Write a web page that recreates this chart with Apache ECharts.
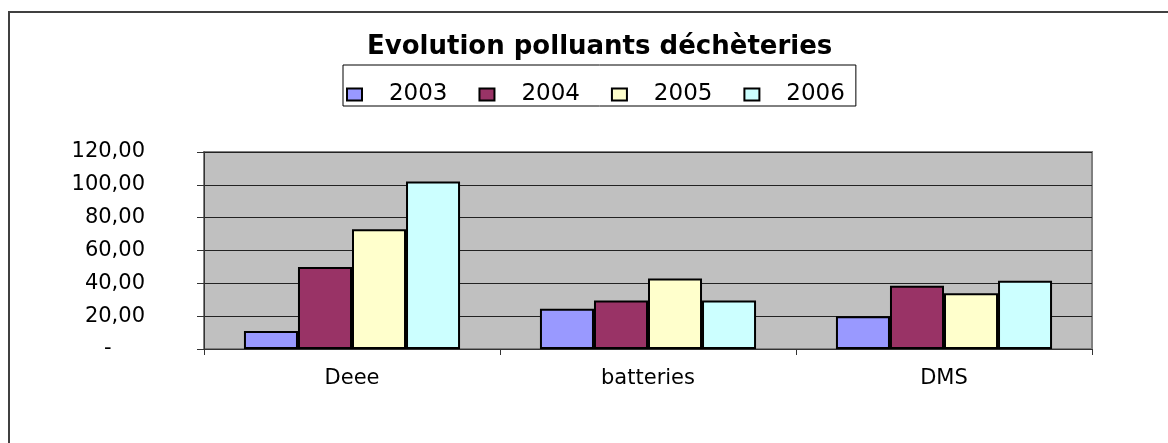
<!DOCTYPE html>
<html>
<head>
<meta charset="utf-8">
<script src="https://cdn.jsdelivr.net/npm/echarts@6/dist/echarts.min.js"></script>
<style>
  html, body { margin: 0; padding: 0; background: #fff; }
  #chart { width: 1168px; height: 443px; }
</style>
</head>
<body>
<div id="chart"></div>
<script>
  var categories = ['Deee', 'batteries', 'DMS'];
  var years = ['2003', '2004', '2005', '2006'];
  var v2003 = [11, 24.5, 20];
  var v2004 = [50, 29.5, 38.5];
  var v2005 = [73, 43, 34];
  var v2006 = [102, 29.5, 41.5];
  var colors = ['#9999FF', '#993366', '#FFFFCC', '#CCFFFF'];

  var seriesData = [v2003, v2004, v2005, v2006];
  var font = 'DejaVu Sans';

  var option = {
    animation: false,
    title: {
      text: 'Evolution polluants déchèteries',
      left: 362,
      top: 29,
      textStyle: { fontFamily: font, fontWeight: 'bold', fontSize: 26, color: '#000' }
    },
    legend: {
      data: years,
      left: 343,
      top: 65,
      padding: [18, 11, 0, 3],
      itemGap: 31,
      itemWidth: 15,
      itemHeight: 12,
      borderColor: '#000',
      borderWidth: 1,
      icon: 'rect',
      formatter: function (name) { return '   ' + name; },
      textStyle: { fontFamily: font, fontSize: 23, color: '#000' }
    },
    graphic: [{
      type: 'rect',
      shape: { x: 9, y: 12, width: 1300, height: 600 },
      style: { fill: 'none', stroke: '#404040', lineWidth: 2 },
      silent: true
    }],
    grid: {
      left: 204, right: 76, top: 152, bottom: 94,
      show: true,
      backgroundColor: '#C0C0C0',
      borderColor: '#808080',
      borderWidth: 2
    },
    xAxis: {
      type: 'category',
      data: categories,
      axisLine: { lineStyle: { color: '#333', width: 1 } },
      axisTick: { show: true, length: 6, lineStyle: { color: '#333' } },
      axisLabel: { fontFamily: font, fontSize: 21, color: '#000', margin: 19 }
    },
    yAxis: {
      type: 'value',
      min: 0, max: 120, interval: 20,
      axisLine: { show: true, lineStyle: { color: '#333', width: 1 } },
      axisTick: { show: true, length: 7, lineStyle: { color: '#333' } },
      splitLine: { lineStyle: { color: '#222', width: 1 } },
      axisLabel: {
        fontFamily: font, fontSize: 21, color: '#000', margin: 59,
        formatter: function (v) {
          if (v === 0) return '-     ';
          return v.toFixed(2).replace('.', ',');
        }
      }
    },
    series: years.map(function (y, i) {
      return {
        name: y,
        type: 'bar',
        data: seriesData[i],
        barGap: '0%',
        barCategoryGap: '27%',
        itemStyle: { color: colors[i], borderColor: '#000', borderWidth: 2 }
      };
    })
  };

  echarts.init(document.getElementById('chart')).setOption(option);
</script>
</body>
</html>
